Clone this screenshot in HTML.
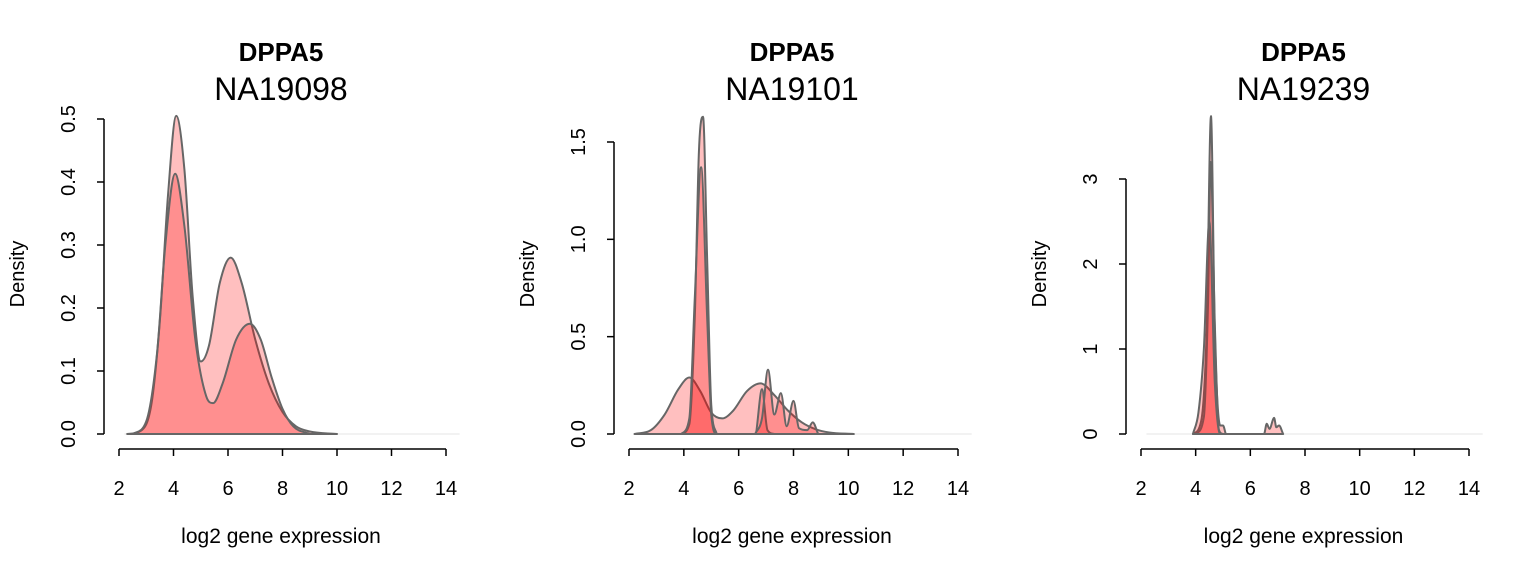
<!DOCTYPE html>
<html><head><meta charset="utf-8"><style>
body{margin:0;background:#fff}
svg{display:block;font-family:"Liberation Sans",Arial,sans-serif}
</style></head><body>
<svg id="chart" width="1536" height="576" viewBox="0 0 1536 576"></svg>
<script>
// x-axis ticks (shared)
const xTicks = [2,4,6,8,10,12,14];
// panel titles
const geneNames = ["DPPA5","DPPA5","DPPA5"];
const sampleNames = ["NA19098","NA19101","NA19239"];
// y ticks per panel
const yTicks1 = [0,0.1,0.2,0.3,0.4,0.5];
const yTickLabels1 = ["0.0","0.1","0.2","0.3","0.4","0.5"];
const yTicks2 = [0,0.5,1.0,1.5];
const yTickLabels2 = ["0.0","0.5","1.0","1.5"];
const yTicks3 = [0,1,2,3];
const yTickLabels3 = ["0","1","2","3"];
// density curves: x values and density values
const p1aX = [2.3,2.8,3.2,3.5,3.8,4.1,4.4,4.7,5.0,5.3,5.7,6.1,6.5,7.0,7.5,8.0,8.5,9.0,10];
const p1aY = [0,0.005,0.05,0.18,0.38,0.505,0.42,0.22,0.115,0.14,0.24,0.28,0.24,0.15,0.08,0.035,0.012,0.004,0];
const p1bX = [2.5,3.0,3.4,3.7,4.06,4.4,4.8,5.2,5.45,5.8,6.3,6.8,7.2,7.6,8.0,8.4,9.0];
const p1bY = [0,0.02,0.13,0.3,0.413,0.33,0.15,0.06,0.049,0.08,0.15,0.175,0.15,0.09,0.04,0.012,0];
const p2aX = [2.2,2.8,3.3,3.8,4.2,4.6,5.0,5.4,5.8,6.3,6.8,7.3,7.8,8.3,8.8,9.3,10.2];
const p2aY = [0,0.02,0.1,0.23,0.29,0.22,0.11,0.08,0.12,0.22,0.26,0.2,0.12,0.06,0.025,0.008,0];
const p2bX = [3.9,4.2,4.4,4.55,4.7,4.85,5.0,5.2];
const p2bY = [0,0.05,0.6,1.45,1.63,0.9,0.15,0];
const p2cX = [3.9,4.2,4.4,4.63,4.85,5.0,5.2,6.6,6.85,7.05,7.3];
const p2cY = [0,0.08,0.7,1.37,0.6,0.1,0,0,0.23,0.02,0];
const p2dX = [6.6,6.85,7.07,7.3,7.54,7.75,8.0,8.2,8.5,8.7,8.9];
const p2dY = [0,0.08,0.33,0.1,0.21,0.04,0.17,0.03,0.02,0.06,0];
const p3aX = [3.9,4.2,4.4,4.56,4.7,4.9,5.0,5.1];
const p3aY = [0,0.15,1.2,3.74,1.2,0.1,0.1,0];
const p3bX = [4.0,4.3,4.45,4.55,4.7,4.85,5.0];
const p3bY = [0,0.2,1.5,3.2,1.3,0.05,0];
const p3cX = [3.9,4.1,4.3,4.5,4.7,4.9,6.5,6.6,6.7,6.87,6.95,7.05,7.2];
const p3cY = [0,0.25,1.0,2.5,0.6,0,0,0.12,0.06,0.19,0.08,0.1,0];

const panels = [
 {x0:119,x1:446,yAx:104,yTop:119,yMax:0.5,ticks:yTicks1,labs:yTickLabels1,curves:[[p1aX,p1aY],[p1bX,p1bY]]},
 {x0:629,x1:958,yAx:614,yTop:142,yMax:1.5,ticks:yTicks2,labs:yTickLabels2,curves:[[p2aX,p2aY],[p2bX,p2bY],[p2cX,p2cY],[p2dX,p2dY]]},
 {x0:1141,x1:1469,yAx:1126,yTop:179,yMax:3,ticks:yTicks3,labs:yTickLabels3,curves:[[p3aX,p3aY],[p3bX,p3bY],[p3cX,p3cY]]}
];
const NS="http://www.w3.org/2000/svg";
const svg=document.getElementById('chart');
function mk(tag,attrs,parent){const e=document.createElementNS(NS,tag);for(const k in attrs)e.setAttribute(k,attrs[k]);(parent||svg).appendChild(e);return e;}
function monotonePath(px,py){
 const n=px.length;const d=[],m=[];
 for(let i=0;i<n-1;i++)d.push((py[i+1]-py[i])/(px[i+1]-px[i]));
 m[0]=d[0];m[n-1]=d[n-2];
 for(let i=1;i<n-1;i++){m[i]=(d[i-1]*d[i]<=0)?0:(d[i-1]+d[i])/2;}
 for(let i=0;i<n-1;i++){if(d[i]===0){m[i]=0;m[i+1]=0;continue;}const a=m[i]/d[i],b=m[i+1]/d[i],s=a*a+b*b;if(s>9){const t=3/Math.sqrt(s);m[i]=t*a*d[i];m[i+1]=t*b*d[i];}}
 let p="M"+px[0]+","+py[0];
 for(let i=0;i<n-1;i++){const h=(px[i+1]-px[i])/3;p+=" C"+(px[i]+h)+","+(py[i]+m[i]*h)+" "+(px[i+1]-h)+","+(py[i+1]-m[i+1]*h)+" "+px[i+1]+","+py[i+1];}
 return p;
}
panels.forEach((P,pi)=>{
 const g=mk('g',{});
 
 
 const sx=v=>P.x0+(v-2)*(P.x1-P.x0)/12;
 const y0=434;
 const sy=v=>y0-v*(y0-P.yTop)/P.yMax;
 const cx=(P.x0+P.x1)/2-1.5;
 const bl=mk('line',{x1:sx(2.2),x2:sx(14.5),y1:y0,y2:y0,stroke:'#eee','stroke-width':1.5},g);
 
 
 P.curves.forEach((c,ci)=>{
  const px=c[0].map(sx),py=c[1].map(sy);
  const d=monotonePath(px,py)+" Z";
  const path=mk('path',{d:d,fill:'rgba(255,0,0,0.25)',stroke:'#666','stroke-width':2,'stroke-linejoin':'round'},g);
  
  
 });
 const xa=mk('g',{},g);
 
 
 mk('line',{x1:sx(2),x2:sx(14),y1:449,y2:449,stroke:'#000','stroke-width':1.5},xa);
 xTicks.forEach(t=>{
  mk('line',{x1:sx(t),x2:sx(t),y1:449,y2:456,stroke:'#000','stroke-width':1.5},xa);
  const tx=mk('text',{x:sx(t),y:495,'font-size':20,'text-anchor':'middle'},xa);tx.textContent=t;
  
  
 });
 const ya=mk('g',{},g);
 
 
 mk('line',{x1:P.yAx,x2:P.yAx,y1:sy(0),y2:sy(P.ticks[P.ticks.length-1]),stroke:'#000','stroke-width':1.5},ya);
 P.ticks.forEach((t,i)=>{
  mk('line',{x1:P.yAx-7,x2:P.yAx,y1:sy(t),y2:sy(t),stroke:'#000','stroke-width':1.5},ya);
  const lx=P.yAx-36;
  const tx=mk('text',{x:lx,y:sy(t),'font-size':20,'text-anchor':'middle',transform:'rotate(-90 '+lx+' '+sy(t)+')',dy:'7'},ya);tx.textContent=P.labs[i];
  
  
 });
 const dx=P.yAx-87;
 const yl=mk('text',{x:dx,y:274,'font-size':20,'text-anchor':'middle',transform:'rotate(-90 '+dx+' 274)',dy:'7'},g);yl.textContent='Density';
 
 
 const xl=mk('text',{x:cx,y:543,'font-size':21,'text-anchor':'middle'},g);xl.textContent='log2 gene expression';
 
 
 const t1=mk('text',{x:cx,y:61,'font-size':26,'font-weight':'bold','text-anchor':'middle'},g);t1.textContent=geneNames[pi];
 
 
 const t2=mk('text',{x:cx,y:100,'font-size':32,'text-anchor':'middle'},g);t2.textContent=sampleNames[pi];
 
 
});
</script>
</body></html>
